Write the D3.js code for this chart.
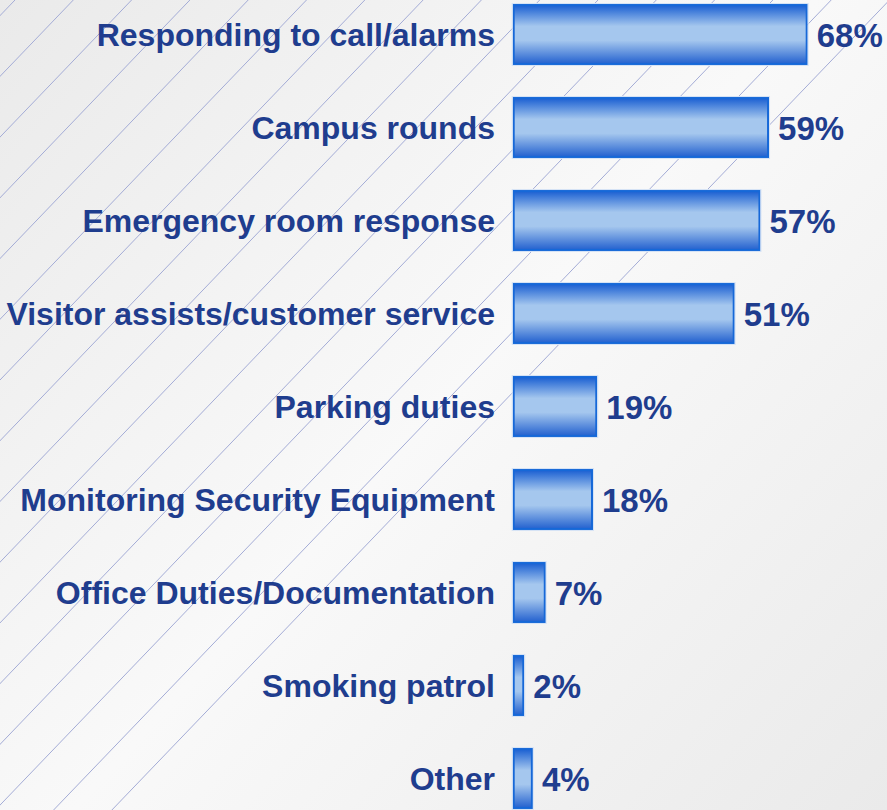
<!DOCTYPE html>
<html>
<head>
<meta charset="utf-8">
<script src="https://cdn.jsdelivr.net/npm/d3@7"></script>
<style>
  html, body { margin: 0; padding: 0; background: #f2f2f2; }
  svg { display: block; }
  .cat { font-family: "Liberation Sans", Arial, sans-serif; font-weight: bold; font-size: 32px; fill: #1f3d8e; }
  .val { font-family: "Liberation Sans", Arial, sans-serif; font-weight: bold; font-size: 33px; fill: #1f3d8e; }
</style>
</head>
<body>
<script>
var categories = [
    "Responding to call/alarms",
    "Campus rounds",
    "Emergency room response",
    "Visitor assists/customer service",
    "Parking duties",
    "Monitoring Security Equipment",
    "Office Duties/Documentation",
    "Smoking patrol",
    "Other"
];
var values = [68, 59, 57, 51, 19, 18, 7, 2, 4];
var valueLabels = ["68%", "59%", "57%", "51%", "19%", "18%", "7%", "2%", "4%"];

var W = 887, H = 810;

var svg = d3.select("body").append("svg")
    .attr("width", W)
    .attr("height", H);

var defs = svg.append("defs");

// background: soft diagonal shading
var bg = defs.append("linearGradient")
    .attr("id", "bg")
    .attr("gradientUnits", "userSpaceOnUse")
    .attr("x1", 0).attr("y1", 0)
    .attr("x2", W).attr("y2", H);
bg.append("stop").attr("offset", "0%").attr("stop-color", "#eaeaea");
bg.append("stop").attr("offset", "50%").attr("stop-color", "#f9f9f9");
bg.append("stop").attr("offset", "100%").attr("stop-color", "#eaeaea");

// bar fill: dark edges, light middle
var bar = defs.append("linearGradient")
    .attr("id", "barfill")
    .attr("x1", 0).attr("y1", 0)
    .attr("x2", 0).attr("y2", 1);
bar.append("stop").attr("offset", "0%").attr("stop-color", "#1a5fd2");
bar.append("stop").attr("offset", "36%").attr("stop-color", "#a5c7ee");
bar.append("stop").attr("offset", "60%").attr("stop-color", "#a5c7ee");
bar.append("stop").attr("offset", "100%").attr("stop-color", "#2361cf");

svg.append("rect")
    .attr("width", W)
    .attr("height", H)
    .attr("fill", "url(#bg)");

// thin diagonal hatch lines
var hatch = svg.append("g")
    .attr("stroke", "#a4acd6")
    .attr("stroke-width", 1)
    .attr("fill", "none");
var spacing = 58.3, run = 0.96;
for (var x0 = 15 - spacing * 14; x0 < W + spacing; x0 += spacing) {
    hatch.append("line")
        .attr("x1", x0)
        .attr("y1", 0)
        .attr("x2", x0 - run * H)
        .attr("y2", H);
}

var x = d3.scaleLinear()
    .domain([0, 100])
    .range([513.7, 513.7 + 429.4]);

var y = d3.scaleBand()
    .domain(categories)
    .range([-12, -12 + 93 * categories.length])
    .paddingInner(0.366)
    .paddingOuter(0.183);

var rows = svg.selectAll("g.row")
    .data(categories)
    .enter().append("g")
    .attr("class", "row");

rows.append("rect")
    .attr("x", x(0))
    .attr("y", function (d) { return y(d); })
    .attr("width", function (d, i) { return x(values[i]) - x(0) + 1; })
    .attr("height", y.bandwidth())
    .attr("fill", "url(#barfill)")
    .attr("stroke", "#1668d8")
    .attr("stroke-width", 2);

// faint light outline around each bar
rows.append("rect")
    .attr("x", x(0) - 1.5)
    .attr("y", function (d) { return y(d) - 1.5; })
    .attr("width", function (d, i) { return x(values[i]) - x(0) + 4; })
    .attr("height", y.bandwidth() + 3)
    .attr("fill", "none")
    .attr("stroke", "#d6e3f5")
    .attr("stroke-width", 1);

rows.append("text")
    .attr("class", "cat")
    .attr("text-anchor", "end")
    .attr("x", 495)
    .attr("y", function (d) { return y(d) + y.bandwidth() / 2 + 11.5; })
    .text(function (d) { return d; });

rows.append("text")
    .attr("class", "val")
    .attr("x", function (d, i) { return x(values[i]) + 11; })
    .attr("y", function (d) { return y(d) + y.bandwidth() / 2 + 12.5; })
    .text(function (d, i) { return valueLabels[i]; });
</script>
</body>
</html>
